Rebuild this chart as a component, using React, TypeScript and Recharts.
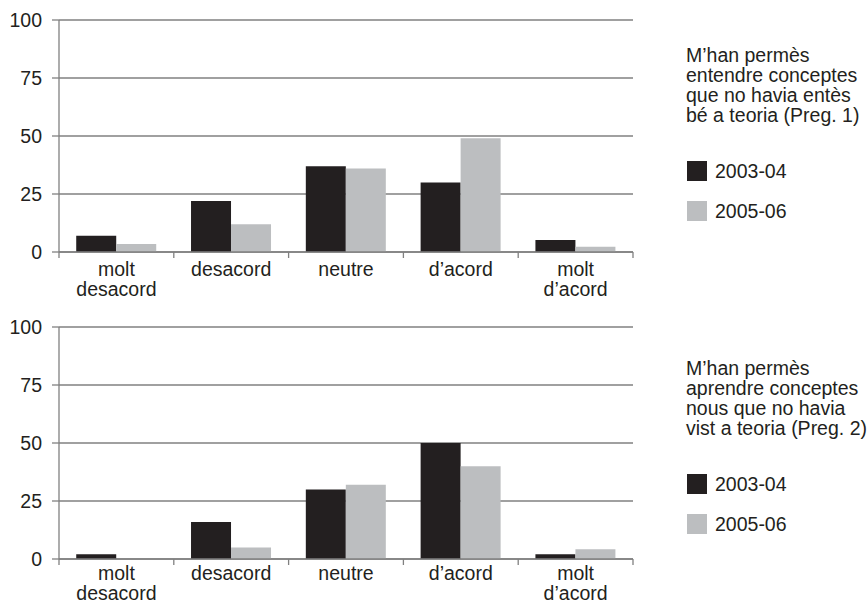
import React from "react";
import { BarChart, Bar, XAxis, YAxis, CartesianGrid, Legend } from "recharts";

const categories = ["molt\ndesacord", "desacord", "neutre", "d’acord", "molt\nd’acord"];
const seriesNames = ["2003-04", "2005-06"];
const yTicks = [0, 25, 50, 75, 100];

const q1_2003 = [7, 22, 37, 30, 5.2];
const q1_2005 = [3.5, 12, 36, 49, 2.3];
const q2_2003 = [2, 16, 30, 50, 2];
const q2_2005 = [0, 5, 32, 40, 4.2];

const q1Title = ["M’han permès", "entendre conceptes", "que no havia entès", "bé a teoria (Preg. 1)"];
const q2Title = ["M’han permès", "aprendre conceptes", "nous que no havia", "vist a teoria (Preg. 2)"];

const DARK = "#231f20";
const LIGHT = "#bcbec0";
const GRID = "#808080";
const TEXT = "#231f20";
const FS = 19.5;

const build = (a: number[], b: number[]) =>
  categories.map((c, i) => ({ cat: c, s1: a[i], s2: b[i] }));

const makeCatTick = (firstDy: number) => (props: any) => {
  const { x, y, payload } = props;
  const lines = String(payload.value).split("\n");
  const half = typeof payload.offset === "number" ? payload.offset : 0;
  const isLast = payload.value === categories[categories.length - 1];
  return (
    <g>
      <line x1={x - half} x2={x - half} y1={y} y2={y + 6} stroke={GRID} strokeWidth={1.3} />
      {isLast && <line x1={x + half} x2={x + half} y1={y} y2={y + 6} stroke={GRID} strokeWidth={1.3} />}
      <text x={x} y={y} textAnchor="middle" fill={TEXT} fontSize={FS}>
        {lines.map((l, i) => (
          <tspan key={i} x={x} dy={i === 0 ? firstDy : 20}>
            {l}
          </tspan>
        ))}
      </text>
    </g>
  );
};

const makeLegend = (title: string[]) => (props: any) => {
  const payload = props.payload || [];
  return (
    <div style={{ color: TEXT, fontSize: FS, lineHeight: "20px", textAlign: "left" }}>
      {title.map((t, i) => (
        <div key={i} style={{ whiteSpace: "nowrap" }}>{t}</div>
      ))}
      <div style={{ height: 26 }} />
      {payload.map((p: any, i: number) => (
        <div key={i} style={{ height: 40, display: "flex", alignItems: "center" }}>
          <span style={{ display: "inline-block", width: 20, height: 20, background: p.color, marginLeft: 1, marginRight: 8 }} />
          <span>{p.value}</span>
        </div>
      ))}
    </div>
  );
};

const Panel = ({ data, title, legendTop, labelDy }: { data: any[]; title: string[]; legendTop: number; labelDy: number }) => {
  const Tick = makeCatTick(labelDy);
  return (
    <BarChart
      width={868}
      height={305}
      data={data}
      margin={{ top: 20, right: 235, left: 0, bottom: 0 }}
      barCategoryGap="15%"
      barGap={0}
    >
      <CartesianGrid vertical={false} stroke={GRID} strokeWidth={1.3} />
      <XAxis
        dataKey="cat"
        height={53}
        interval={0}
        tickLine={false}
        tickSize={0}
        tickMargin={0}
        axisLine={{ stroke: GRID, strokeWidth: 1.3 }}
        tick={<Tick />}
      />
      <YAxis
        width={59}
        domain={[0, 100]}
        ticks={yTicks}
        interval={0}
        tickSize={7}
        tickMargin={10}
        axisLine={{ stroke: GRID, strokeWidth: 1.3 }}
        tickLine={{ stroke: GRID, strokeWidth: 1.3 }}
        tick={{ fill: TEXT, fontSize: FS }}
      />
      <Legend
        layout="horizontal"
        align="center"
        verticalAlign="middle"
        wrapperStyle={{ position: "absolute", left: 686, top: legendTop, width: 182 }}
        content={makeLegend(title)}
      />
      <Bar dataKey="s1" name={seriesNames[0]} fill={DARK} isAnimationActive={false} />
      <Bar dataKey="s2" name={seriesNames[1]} fill={LIGHT} isAnimationActive={false} />
    </BarChart>
  );
};

export default function App() {
  return (
    <div
      style={{
        position: "absolute",
        left: 0,
        top: 0,
        width: 868,
        height: 603,
        background: "#ffffff",
        fontFamily: "'Liberation Sans', Arial, Helvetica, sans-serif",
        overflow: "hidden",
      }}
    >
      <div style={{ position: "absolute", left: 0, top: 0 }}>
        <Panel data={build(q1_2003, q1_2005)} title={q1Title} legendTop={45} labelDy={24} />
      </div>
      <div style={{ position: "absolute", left: 0, top: 307 }}>
        <Panel data={build(q2_2003, q2_2005)} title={q2Title} legendTop={51} labelDy={21} />
      </div>
    </div>
  );
}
